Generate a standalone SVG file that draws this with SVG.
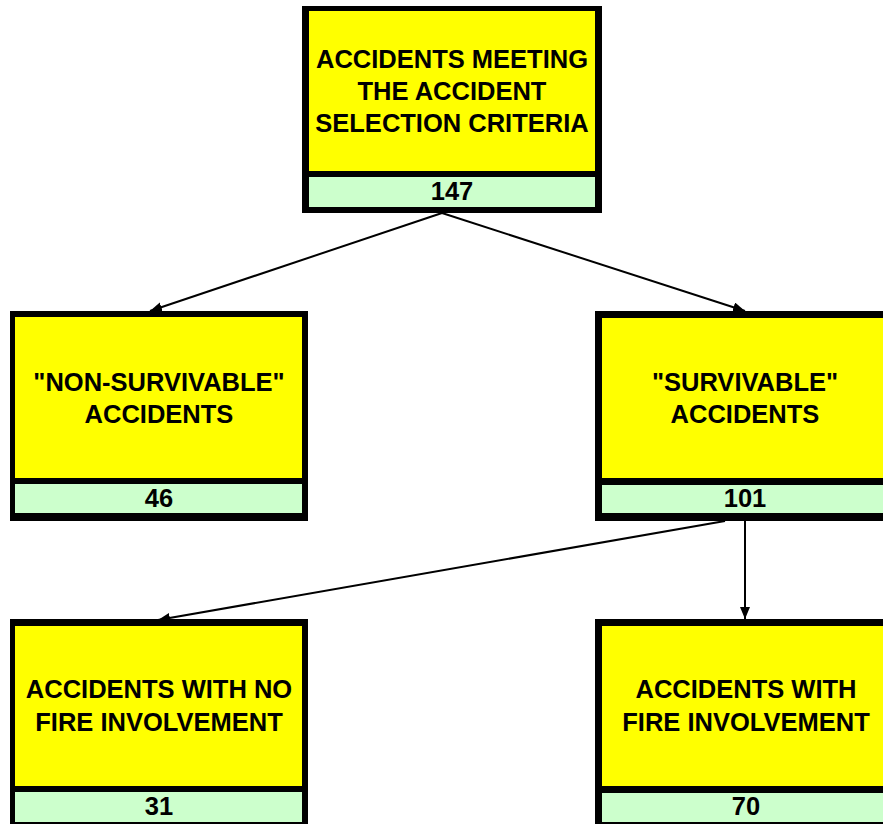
<svg xmlns="http://www.w3.org/2000/svg" width="883" height="824" viewBox="0 0 883 824">
<style>
.frame{fill:#000}
.body{fill:#FFFF00}
.count{fill:#CCFFCC}
text{font-family:"Liberation Sans",Arial,sans-serif;font-weight:bold;font-size:25.5px;fill:#000;text-anchor:middle}
.conn{stroke:#000;stroke-width:2;fill:none;marker-end:url(#arrow)}
</style>
<defs>
<marker id="arrow" markerUnits="userSpaceOnUse" markerWidth="13" markerHeight="11" refX="12" refY="5" orient="auto">
<path d="M0,0 L12,5 L0,10 z" fill="#000"/>
</marker>
</defs>
<rect width="883" height="824" fill="#fff"/>
<g id="connectors">
<line class="conn" x1="442" y1="213" x2="150" y2="311"/>
<line class="conn" x1="442" y1="213" x2="745" y2="311"/>
<line class="conn" x1="725" y1="521" x2="158" y2="620"/>
<line class="conn" x1="745" y1="521" x2="745" y2="619"/>
</g>
<g id="node-total">
<rect class="frame" x="302" y="6" width="300" height="207"/>
<rect class="body" x="309" y="11" width="286" height="160"/>
<rect class="count" x="309" y="177" width="286" height="30"/>
<text x="452" y="68">ACCIDENTS MEETING</text>
<text x="452" y="100">THE ACCIDENT</text>
<text x="452" y="132">SELECTION CRITERIA</text>
<text x="452" y="200">147</text>
</g>
<g id="node-nonsurvivable">
<rect class="frame" x="10" y="311" width="298" height="210"/>
<rect class="body" x="15" y="317" width="287" height="161"/>
<rect class="count" x="15" y="484" width="287" height="29"/>
<text x="159" y="391">"NON-SURVIVABLE"</text>
<text x="159" y="423">ACCIDENTS</text>
<text x="159" y="507">46</text>
</g>
<g id="node-survivable">
<rect class="frame" x="595" y="311" width="300" height="210"/>
<rect class="body" x="602" y="318" width="290" height="160"/>
<rect class="count" x="602" y="485" width="290" height="28"/>
<text x="745" y="391">"SURVIVABLE"</text>
<text x="745" y="423">ACCIDENTS</text>
<text x="745" y="507">101</text>
</g>
<g id="node-nofire">
<rect class="frame" x="10" y="619" width="298" height="211"/>
<rect class="body" x="15" y="626" width="287" height="160"/>
<rect class="count" x="15" y="792" width="287" height="30"/>
<text x="159" y="698">ACCIDENTS WITH NO</text>
<text x="159" y="731">FIRE INVOLVEMENT</text>
<text x="159" y="815">31</text>
</g>
<g id="node-fire">
<rect class="frame" x="595" y="619" width="300" height="211"/>
<rect class="body" x="602" y="626" width="290" height="160"/>
<rect class="count" x="602" y="793" width="290" height="29"/>
<text x="746" y="698">ACCIDENTS WITH</text>
<text x="746" y="731">FIRE INVOLVEMENT</text>
<text x="746" y="815">70</text>
</g>
</svg>
